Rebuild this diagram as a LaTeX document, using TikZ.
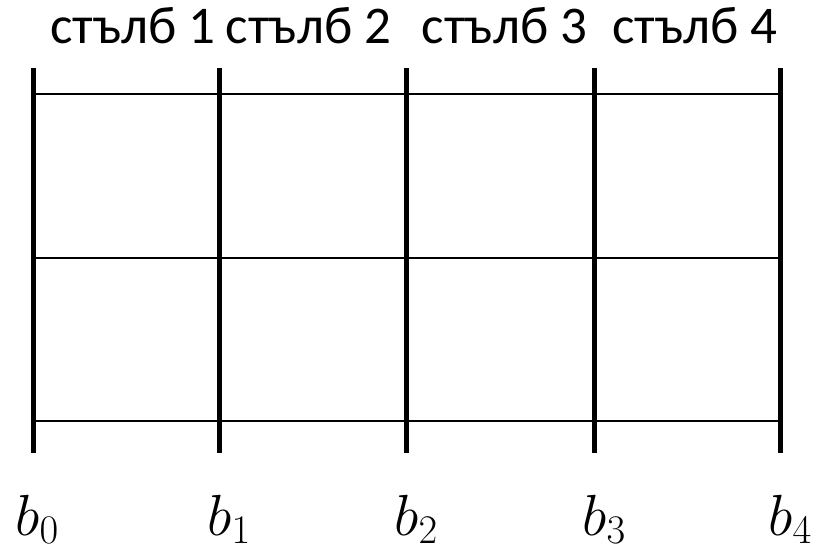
\documentclass[tikz,border=0pt]{standalone}
\usepackage{fix-cm}
\usepackage{fontspec}
\newfontfamily\calib{Carlito}
\begin{document}
\begin{tikzpicture}[x=1pt,y=-1pt,
  col/.style={line width=5pt},
  row/.style={line width=2.4pt},
  head/.style={font=\calib\fontsize{53}{55}\selectfont, anchor=base, inner sep=0pt},
  blab/.style={font=\fontsize{58}{60}\selectfont, anchor=base, inner sep=0pt}]
\useasboundingbox (0,0) rectangle (824,551);
\foreach \i/\x in {0/33,1/219,2/406,3/594,4/780}{
  \coordinate (t\i) at (\x,68);
  \coordinate (u\i) at (\x,453);
}
\foreach \j/\y in {1/94,2/258,3/421}{
  \coordinate (l\j) at (33,\y);
  \coordinate (r\j) at (780,\y);
  \draw[row] (l\j) -- (r\j);
}
\foreach \i in {0,...,4}{ \draw[col] (t\i) -- (u\i); }
\node[head] (s1) at (133,44) {стълб 1};
\node[head] (s2) at (308.5,44) {стълб 2};
\node[head] (s3) at (504.5,44) {стълб 3};
\node[head] (s4) at (695,44) {стълб 4};
\node[blab] (b0) at (37,535) {$b_0$};
\node[blab] (b1) at (229,535) {$b_1$};
\node[blab] (b2) at (416,535) {$b_2$};
\node[blab] (b3) at (604,535) {$b_3$};
\node[blab] (b4) at (790,535) {$b_4$};
\end{tikzpicture}
\end{document}
